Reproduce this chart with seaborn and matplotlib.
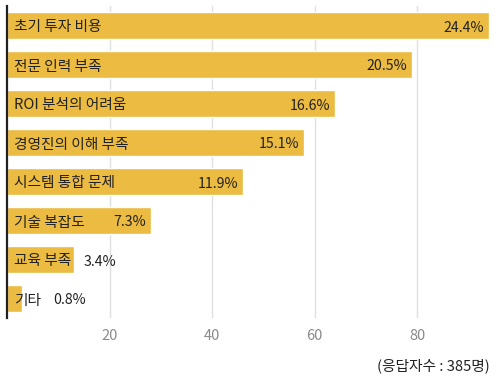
import matplotlib
matplotlib.use("Agg")
import matplotlib.pyplot as plt
import seaborn as sns
import pandas as pd

categories = ["초기 투자 비용", "전문 인력 부족", "ROI 분석의 어려움", "경영진의 이해 부족",
              "시스템 통합 문제", "기술 복잡도", "교육 부족", "기타"]
counts = [94, 79, 64, 58, 46, 28, 13, 3]
percents = ["24.4%", "20.5%", "16.6%", "15.1%", "11.9%", "7.3%", "3.4%", "0.8%"]
x_ticks = [20, 40, 60, 80]
footer = "(응답자수 : 385명)"

sns.set_theme(style="white")
plt.rcParams["font.family"] = ["Noto Sans CJK KR", "DejaVu Sans"]

df = pd.DataFrame({"category": categories, "count": counts})

fig = plt.figure(figsize=(4.95, 3.78), dpi=100)
ax = fig.add_axes([7 / 495, 1 - 318 / 378, 482 / 495, 312 / 378])

sns.barplot(data=df, x="count", y="category", orient="h", color="#ECBB41",
            saturation=1, width=0.71, ax=ax, zorder=2)

ax.set_xlim(0, 94)
ax.set_ylim(len(categories) - 0.5, -0.5)
ax.set_xticks(x_ticks)
ax.set_xticklabels([str(t) for t in x_ticks])
ax.xaxis.grid(True, color="#e0e0e0", linewidth=1, zorder=0)
ax.yaxis.grid(False)
ax.set_axisbelow(True)
ax.set_xlabel("")
ax.set_ylabel("")
ax.set_yticks([])
ax.tick_params(axis="x", length=0, colors="#8a8a8a", labelsize=10.5, pad=8)
for s in ["top", "right", "bottom"]:
    ax.spines[s].set_visible(False)
ax.spines["left"].set_color("#222222")
ax.spines["left"].set_linewidth(1.6)
ax.spines["left"].set_zorder(5)

fs = 10.6
fs_pct = 10.2
dy = -2
for i, (cat, c, p) in enumerate(zip(categories, counts, percents)):
    t = ax.annotate(cat, xy=(0, i), xytext=(7, dy), textcoords="offset pixels",
                    ha="left", va="center", fontsize=fs, color="#222222", zorder=4)
    if c >= 20:
        ax.annotate(p, xy=(c, i), xytext=(-5, dy), textcoords="offset pixels",
                    ha="right", va="center", fontsize=fs_pct, color="#222222", zorder=4)
    else:
        ax.annotate(p, xy=(1, 0.5), xycoords=t, xytext=(12, 0),
                    textcoords="offset pixels", ha="left", va="center",
                    fontsize=fs_pct, color="#222222", zorder=4)

fig.text(490 / 495, 1 - 366 / 378, footer, ha="right", va="center",
         fontsize=fs, color="#222222")

fig.savefig("out.png", dpi=100)
